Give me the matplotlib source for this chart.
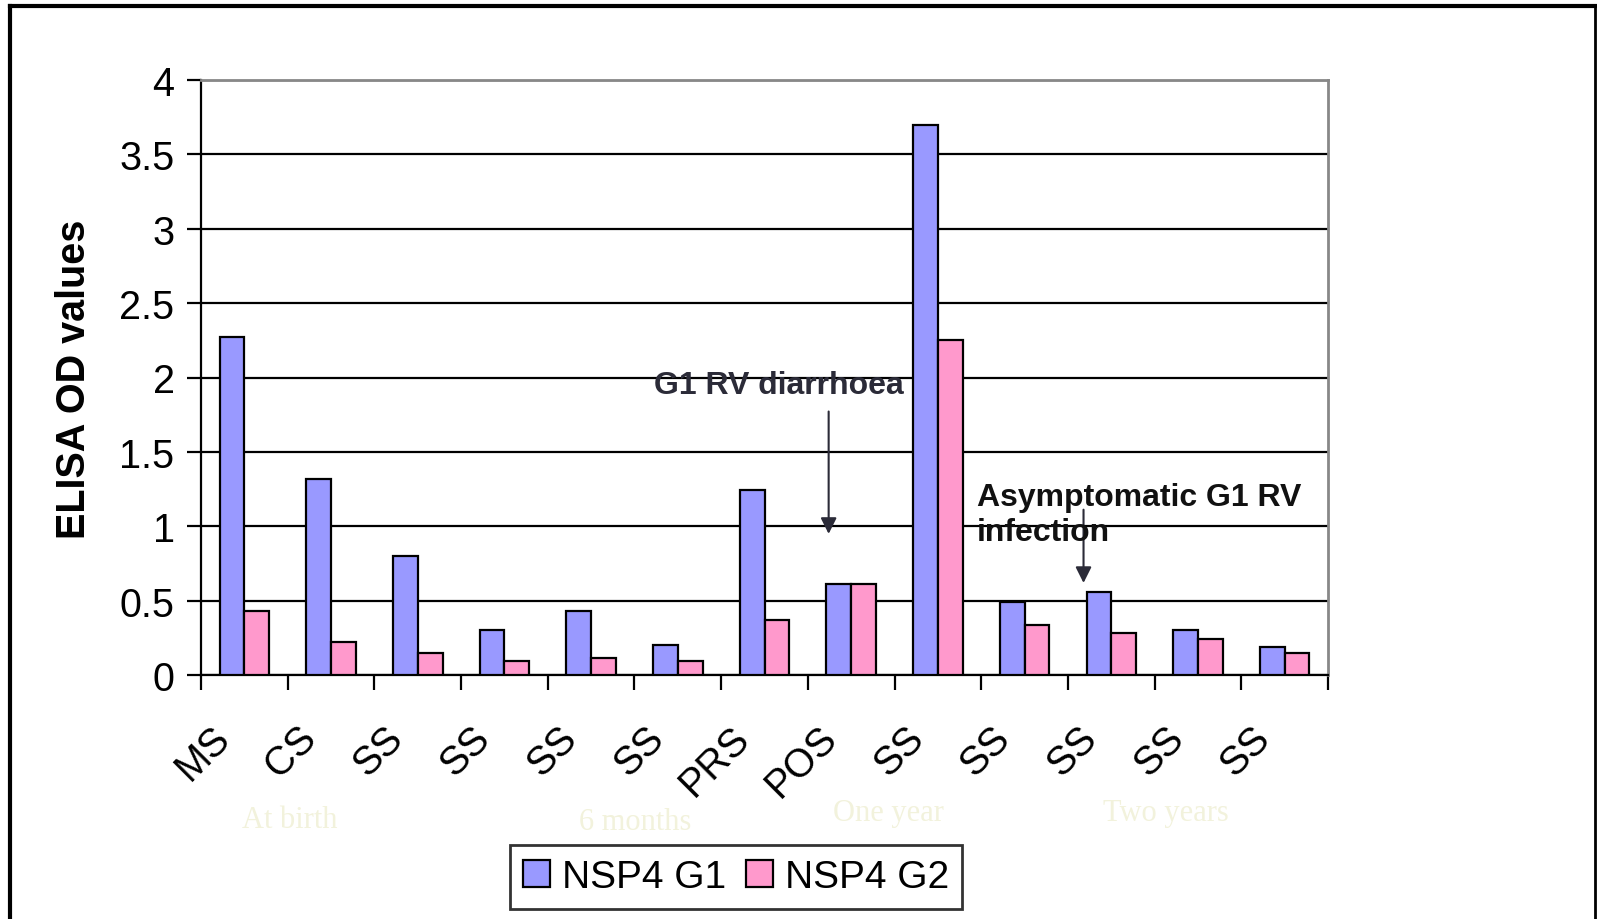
import matplotlib.pyplot as plt
import numpy as np
from matplotlib.transforms import ScaledTranslation
from matplotlib.lines import Line2D

plt.rcParams['font.family'] = ['Liberation Sans', 'DejaVu Sans']

samples = ["MS", "CS", "SS", "SS", "SS", "SS", "PRS", "POS", "SS", "SS", "SS", "SS", "SS"]
nsp4_g1 = [2.27, 1.32, 0.80, 0.30, 0.43, 0.20, 1.245, 0.61, 3.70, 0.49, 0.56, 0.30, 0.185]
nsp4_g2 = [0.43, 0.225, 0.148, 0.094, 0.112, 0.093, 0.37, 0.61, 2.25, 0.335, 0.28, 0.245, 0.15]
periods = ["At birth", "6 months", "One year", "Two years"]
period_pos = [(290, 821), (635, 823), (888, 814), (1166, 814)]

W, H = 1597, 920
fig = plt.figure(figsize=(W / 100, H / 100), dpi=100)
ax = fig.add_axes([201 / W, 1 - 676 / H, (1328 - 201) / W, (676 - 81) / H])

n = len(samples)
centers = np.arange(n) + 0.5
bw = 1 / 3.5
ax.bar(centers - bw / 2, nsp4_g1, bw, color="#9999ff", edgecolor="black",
       linewidth=1.6, label="NSP4 G1", zorder=3)
ax.bar(centers + bw / 2, nsp4_g2, bw, color="#ff99cc", edgecolor="black",
       linewidth=1.6, label="NSP4 G2", zorder=3)

ax.set_xlim(0, n)
ax.set_ylim(0, 4)
ax.set_yticks(np.arange(0, 4.01, 0.5))
ax.set_yticklabels(["%g" % v for v in np.arange(0, 4.01, 0.5)])
ax.yaxis.grid(True, color="black", linewidth=1.6)
ax.set_axisbelow(True)

ax.set_xticks(np.arange(n + 1))
ax.set_xticklabels([])
ax.set_xticks(centers, minor=True)
ax.set_xticklabels(samples, minor=True, rotation=45, ha="right", va="top")
ax.tick_params(axis="x", which="major", length=11, width=1.6, direction="out")
ax.tick_params(axis="x", which="minor", length=0, pad=31, labelsize=28.5)
ax.tick_params(axis="y", length=10, width=1.6, labelsize=28.5, pad=9)
for lbl in ax.get_xticklabels(minor=True):
    lbl.set_transform(lbl.get_transform() + ScaledTranslation(-0.07, 0, fig.dpi_scale_trans))

for side in ("top", "right"):
    ax.spines[side].set_color("#888888")
    ax.spines[side].set_linewidth(2)
for side in ("left", "bottom"):
    ax.spines[side].set_linewidth(1.6)

# arrows marking the infection episodes
ax.annotate("", xy=(7.24, 0.93), xytext=(7.24, 1.79),
            arrowprops=dict(arrowstyle="-|>", color="#2b2b38", lw=1.5, mutation_scale=24))
ax.text(8.11, 1.95, "G1 RV diarrhoea", ha="right", va="center", fontsize=23,
        fontweight="bold", color="#2b2b38", zorder=5)
ax.annotate("", xy=(10.18, 0.60), xytext=(10.18, 1.13),
            arrowprops=dict(arrowstyle="-|>", color="#2b2b38", lw=1.5, mutation_scale=24))
ax.text(8.95, 1.08, "Asymptomatic G1 RV\ninfection", ha="left", va="center", fontsize=23,
        fontweight="bold", color="#111111", linespacing=1.2, zorder=5)

fig.text(74 / W, 1 - 379 / H, "ELISA OD values", rotation=90, ha="center", va="center",
         fontsize=28.5, fontweight="bold")

for name, (px, py) in zip(periods, period_pos):
    fig.text(px / W, 1 - py / H, name, ha="center", va="center", fontsize=22,
             family="Liberation Serif", color="#f2f2dc")

leg = fig.legend(loc="center", bbox_to_anchor=(736 / W, 1 - 878 / H), ncol=2, fontsize=28,
                 frameon=True, fancybox=False, edgecolor="black", handlelength=0.7,
                 handleheight=0.7, handletextpad=0.3, columnspacing=0.5, borderpad=0.35)
leg.get_frame().set_linewidth(2)

# outer frame around the figure
fig.add_artist(Line2D([10 / W, 10 / W], [0, 1 - 7 / H], color="black", lw=3, transform=fig.transFigure))
fig.add_artist(Line2D([10 / W, 1596 / W], [1 - 7 / H, 1 - 7 / H], color="black", lw=3, transform=fig.transFigure))
fig.add_artist(Line2D([1595 / W, 1595 / W], [0, 1 - 7 / H], color="black", lw=2, transform=fig.transFigure))

fig.savefig("out.png", dpi=100)
